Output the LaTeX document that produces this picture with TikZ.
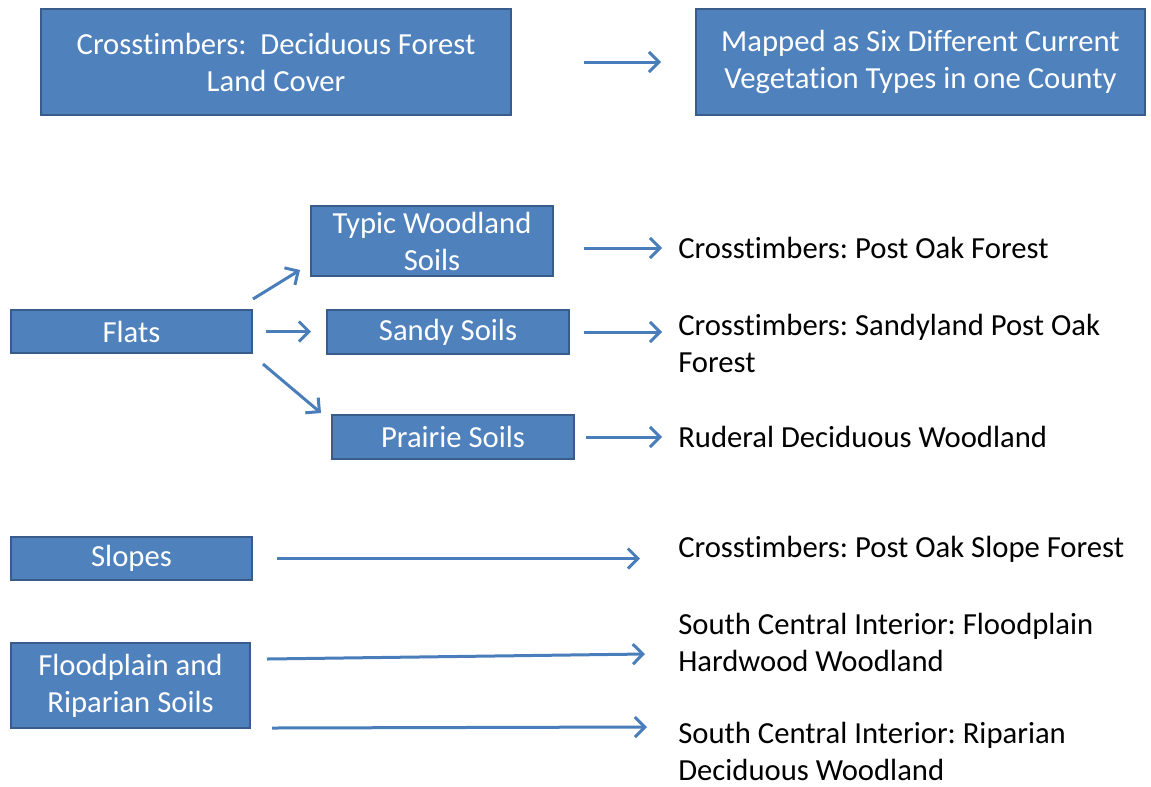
\documentclass[tikz,border=0pt]{standalone}
\usepackage{fontspec}
\setmainfont{Carlito}[Ligatures=NoCommon]
\usetikzlibrary{positioning,arrows.meta,calc}
\definecolor{boxfill}{HTML}{4F81BD}
\definecolor{boxline}{HTML}{385D8A}
\definecolor{arrowblue}{HTML}{4A7EBB}
\tikzset{
  soilbox/.style={draw=boxline, line width=1.5pt, fill=boxfill, text=white, align=center, inner sep=0pt},
  vegtext/.style={anchor=west, align=left, inner sep=0pt},
  flow/.style={draw=arrowblue, line width=2.25pt, -{Straight Barb[length=7.5pt,width=15pt]}}
}
\frenchspacing

\begin{document}
\begin{tikzpicture}[x=0.75pt,y=-0.75pt, font=\fontsize{23}{27.75}\selectfont]
  \useasboundingbox (0,0) rectangle (1151,786);

    % top row
    \node[soilbox, minimum width=352.5pt, minimum height=79.5pt] (cover) at (276,62) {Crosstimbers:\ \ Deciduous Forest\\Land Cover};
    \node[soilbox, minimum width=336.75pt, minimum height=79.5pt] (mapped) at (920.5,62) {Mapped as Six Different Current\\Vegetation Types in one County};
    \draw[flow, shorten <=54pt, shorten >=25.5pt] (cover.east) -- (mapped.west);

    % flats
    \node[soilbox, minimum width=180.75pt, minimum height=32.25pt] (flats) at (131.5,331.5) {Flats};
    \node[soilbox, minimum width=181.5pt, minimum height=52.5pt] (typic) at (432,241) {Typic Woodland\\Soils};
    \node[soilbox, minimum width=181.5pt, minimum height=33pt] (sandy) at (448,332) {Sandy Soils};
    \node[soilbox, minimum width=181.5pt, minimum height=33pt] (prairie) at (453,437) {Prairie Soils};

    \draw[flow] ($(flats.north east)+(0,-10)$) -- ($(typic.south west)+(-10,-7)$);
    \draw[flow, shorten <=9.75pt, shorten >=11.25pt] (flats.east) -- (flats.east -| sandy.west);
    \draw[flow] ($(flats.south east)+(10,10)$) -- ($(prairie.north west)+(-10,-1)$);

    \node[vegtext] (postoak) at (678,248) {Crosstimbers: Post Oak Forest};
    \node[vegtext] (sandyland) at (678,343) {Crosstimbers: Sandyland Post Oak\\Forest};
    \node[vegtext] (ruderal) at (678,437) {Ruderal Deciduous Woodland};

    \draw[flow, shorten <=22.5pt, shorten >=12pt] (typic.east |- postoak.west) -- (postoak.west);
    \draw[flow, shorten <=10.5pt, shorten >=12pt] (sandy.east) -- (sandy.east -| sandyland.west);
    \draw[flow, shorten <=8.25pt, shorten >=12pt] (prairie.east) -- (prairie.east -| ruderal.west);

    % slopes and floodplain
    \node[soilbox, minimum width=180.75pt, minimum height=32.25pt] (slopes) at (131.5,558.5) {Slopes};
    \node[soilbox, minimum width=179.25pt, minimum height=63.75pt] (flood) at (130.5,685.5) {Floodplain and\\Riparian Soils};

    \node[vegtext] (slopeforest) at (678,549) {Crosstimbers: Post Oak Slope Forest};
    \node[vegtext] (hardwood) at (678,642) {South Central Interior: Floodplain\\Hardwood Woodland};
    \node[vegtext] (riparian) at (678,751) {South Central Interior: Riparian\\Deciduous Woodland};

    \draw[flow, shorten <=18pt, shorten >=28.5pt] (slopes.east) -- (slopes.east -| slopeforest.west);
    \draw[flow] ($(flood.east)+(16,-26.5)$) -- ($(hardwood.west)+(-33,12)$);
    \draw[flow] ($(flood.south east)+(21,-1)$) -- ($(riparian.west)+(-31,-24)$);
\end{tikzpicture}
\end{document}
